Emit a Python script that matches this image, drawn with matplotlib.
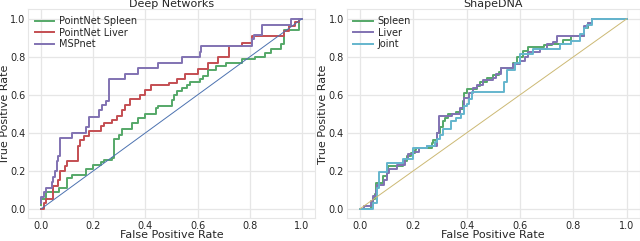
import matplotlib

matplotlib.use("Agg")
import matplotlib.pyplot as plt

# --- Deep Networks panel (ROC corner points, steps-post) -------------------------
pn_spleen_fpr = [0.0, 0.0, 0.02, 0.07, 0.1, 0.12, 0.17, 0.2, 0.23, 0.24, 0.27, 0.28, 0.3,
                 0.31, 0.35, 0.37, 0.4, 0.44, 0.45, 0.5, 0.51, 0.52, 0.54, 0.56, 0.57, 0.61,
                 0.62, 0.64, 0.67, 0.71, 0.77, 0.82, 0.86, 0.88, 0.92, 0.93, 0.99, 1.0]
pn_spleen_tpr = [0.02, 0.05, 0.09, 0.11, 0.16, 0.18, 0.21, 0.23, 0.245, 0.255, 0.27, 0.37,
                 0.39, 0.42, 0.45, 0.48, 0.50, 0.53, 0.54, 0.575, 0.60, 0.62, 0.635, 0.65,
                 0.67, 0.685, 0.70, 0.73, 0.75, 0.77, 0.79, 0.80, 0.82, 0.84, 0.87, 0.94,
                 1.0, 1.0]

pn_liver_fpr = [0.0, 0.01, 0.02, 0.045, 0.065, 0.072, 0.09, 0.10, 0.14, 0.15, 0.165, 0.185,
                0.23, 0.24, 0.27, 0.29, 0.31, 0.32, 0.34, 0.38, 0.40, 0.42, 0.49, 0.52, 0.55,
                0.60, 0.64, 0.68, 0.72, 0.77, 0.81, 0.93, 0.95, 0.975, 0.99, 1.0]
pn_liver_tpr = [0.0, 0.03, 0.05, 0.12, 0.15, 0.2, 0.225, 0.25, 0.33, 0.365, 0.385, 0.41,
                0.435, 0.45, 0.47, 0.49, 0.52, 0.545, 0.58, 0.60, 0.625, 0.65, 0.665, 0.685,
                0.71, 0.735, 0.77, 0.80, 0.855, 0.875, 0.91, 0.935, 0.96, 0.985, 1.0, 1.0]

mspnet_fpr = [0.0, 0.0, 0.01, 0.02, 0.04, 0.046, 0.053, 0.06, 0.065, 0.072, 0.12, 0.17,
              0.185, 0.22, 0.235, 0.25, 0.26, 0.32, 0.37, 0.45, 0.54, 0.61, 0.615, 0.81,
              0.818, 0.848, 0.958, 1.0]
mspnet_tpr = [0.03, 0.065, 0.09, 0.11, 0.14, 0.17, 0.2, 0.25, 0.28, 0.375, 0.40, 0.43,
              0.485, 0.52, 0.545, 0.57, 0.685, 0.71, 0.74, 0.77, 0.80, 0.825, 0.855, 0.895,
              0.917, 0.97, 1.0, 1.0]

# --- ShapeDNA panel -------------------------------------------------------------
sd_spleen_fpr = [0.0, 0.04, 0.05, 0.056, 0.06, 0.0875, 0.10, 0.105, 0.16, 0.175, 0.19,
                 0.205, 0.21, 0.27, 0.275, 0.29, 0.30, 0.31, 0.32, 0.33, 0.36, 0.375, 0.385,
                 0.39, 0.40, 0.44, 0.45, 0.475, 0.50, 0.52, 0.53, 0.575, 0.59, 0.61, 0.63,
                 0.69, 0.72, 0.76, 0.79, 0.84, 0.855, 0.87, 1.0]
sd_spleen_tpr = [0.0, 0.02, 0.05, 0.08, 0.137, 0.175, 0.19, 0.227, 0.25, 0.28, 0.295, 0.31,
                 0.32, 0.345, 0.36, 0.40, 0.43, 0.465, 0.48, 0.50, 0.51, 0.525, 0.57, 0.61,
                 0.63, 0.645, 0.67, 0.69, 0.705, 0.72, 0.74, 0.77, 0.80, 0.833, 0.85, 0.86,
                 0.87, 0.89, 0.91, 0.95, 0.98, 1.0, 1.0]

sd_liver_fpr = [0.0, 0.015, 0.04, 0.05, 0.06, 0.065, 0.09, 0.10, 0.11, 0.14, 0.17, 0.18,
                0.20, 0.22, 0.25, 0.29, 0.295, 0.344, 0.375, 0.39, 0.41, 0.425, 0.44, 0.46,
                0.50, 0.51, 0.53, 0.575, 0.60, 0.62, 0.63, 0.675, 0.70, 0.725, 0.74, 0.78,
                0.84, 0.855, 0.87, 1.0]
sd_liver_tpr = [0.0, 0.015, 0.04, 0.07, 0.10, 0.125, 0.15, 0.19, 0.21, 0.23, 0.26, 0.29,
                0.30, 0.32, 0.33, 0.40, 0.49, 0.50, 0.53, 0.585, 0.61, 0.636, 0.65, 0.68,
                0.69, 0.71, 0.74, 0.765, 0.78, 0.80, 0.825, 0.84, 0.867, 0.88, 0.91, 0.91,
                0.96, 0.98, 1.0, 1.0]

sd_joint_fpr = [0.0, 0.05, 0.064, 0.072, 0.10, 0.16, 0.20, 0.25, 0.28, 0.29, 0.30, 0.31,
                0.34, 0.36, 0.38, 0.39, 0.40, 0.41, 0.42, 0.54, 0.55, 0.58, 0.60, 0.65,
                0.75, 0.79, 0.825, 0.84, 0.85, 0.87, 1.0]
sd_joint_tpr = [0.0, 0.03, 0.11, 0.195, 0.244, 0.26, 0.32, 0.33, 0.35, 0.37, 0.39, 0.42,
                0.46, 0.48, 0.50, 0.54, 0.55, 0.58, 0.616, 0.67, 0.73, 0.77, 0.815, 0.84,
                0.87, 0.885, 0.92, 0.95, 0.97, 1.0, 1.0]

BLUE, GREEN, RED, PURPLE, TAN, CYAN = "#4C72B0", "#55A868", "#C44E52", "#8172B2", "#CCB974", "#64B5CD"
TXT = "#262626"

plt.rcParams.update({
    "font.family": "DejaVu Sans",
    "font.size": 7.5,
    "text.color": TXT,
    "axes.labelcolor": TXT,
    "xtick.color": TXT,
    "ytick.color": TXT,
    "axes.edgecolor": "#e6e6e6",
    "grid.color": "#e6e6e6",
})

fig = plt.figure(figsize=(6.4, 2.41), dpi=100)
ax1 = fig.add_axes([0.044, 0.094, 0.448, 0.867])
ax2 = fig.add_axes([0.5416, 0.094, 0.4584, 0.867])


def style(ax, title):
    ax.set_xlim(-0.05, 1.05)
    ax.set_ylim(-0.05, 1.05)
    ax.set_xticks([0.0, 0.2, 0.4, 0.6, 0.8, 1.0])
    ax.set_yticks([0.0, 0.2, 0.4, 0.6, 0.8, 1.0])
    ax.grid(True, lw=0.9)
    ax.set_axisbelow(True)
    ax.tick_params(length=0, pad=2, labelsize=7)
    ax.set_title(title, fontsize=8, pad=1)
    ax.set_xlabel("False Positive Rate", fontsize=8, labelpad=-0.5)
    ax.set_ylabel("True Positive Rate", fontsize=8, labelpad=0)
    ax.legend(loc="upper left", frameon=False, fontsize=7, handlelength=2.0,
              handletextpad=0.5, borderaxespad=0.3, labelspacing=0.15)


ax1.plot(pn_spleen_fpr, pn_spleen_tpr, drawstyle="steps-post", color=GREEN, lw=1.4, label="PointNet Spleen")
ax1.plot(pn_liver_fpr, pn_liver_tpr, drawstyle="steps-post", color=RED, lw=1.4, label="PointNet Liver")
ax1.plot(mspnet_fpr, mspnet_tpr, drawstyle="steps-post", color=PURPLE, lw=1.4, label="MSPnet")
ax1.plot([0, 1], [0, 1], color=BLUE, lw=0.7)
style(ax1, "Deep Networks")

ax2.plot(sd_spleen_fpr, sd_spleen_tpr, drawstyle="steps-post", color=GREEN, lw=1.4, label="Spleen")
ax2.plot(sd_liver_fpr, sd_liver_tpr, drawstyle="steps-post", color=PURPLE, lw=1.4, label="Liver")
ax2.plot(sd_joint_fpr, sd_joint_tpr, drawstyle="steps-post", color=CYAN, lw=1.4, label="Joint")
ax2.plot([0, 1], [0, 1], color=TAN, lw=0.7)
style(ax2, "ShapeDNA")

fig.savefig("out.png", dpi=100, facecolor="white")
